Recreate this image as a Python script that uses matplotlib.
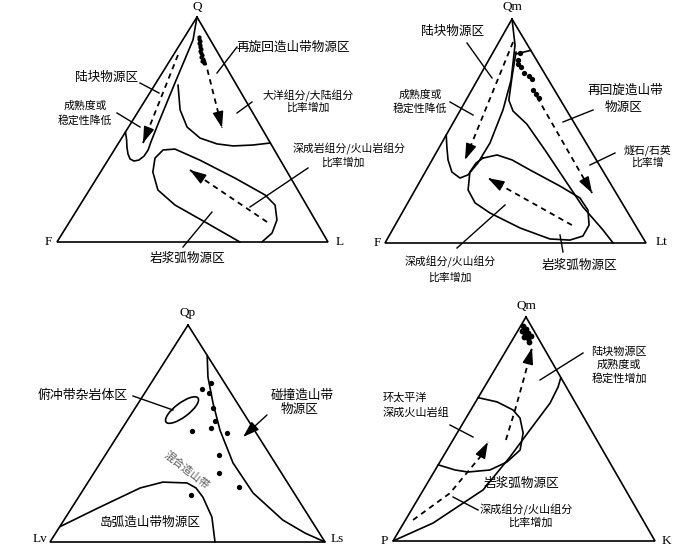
import numpy as np
import matplotlib
matplotlib.use('Agg')
import matplotlib.pyplot as plt
from matplotlib.patches import Ellipse

CJK = ['Noto Sans CJK SC', 'DejaVu Sans']
SERIF = 'Liberation Serif'

# ---- data: ternary compositions in % (top, left, right) ----
# QFL diagram: Q, F, L
qfl_q = [91.1, 90.2, 89.3, 88.4, 87.6, 86.7, 85.8, 84.9, 84.0, 83.1, 82.2, 81.3, 80.4, 79.6]
qfl_f = [3.6, 4.0, 4.1, 4.9, 4.9, 5.3, 5.4, 6.2, 6.3, 6.3, 7.1, 6.9, 7.6, 7.3]
qfl_l = [5.3, 5.8, 6.6, 6.7, 7.5, 8.0, 8.8, 8.9, 9.7, 10.6, 10.7, 11.8, 12.0, 13.1]

qfl_continental = [(100, 0, 0), (89.8, 6.4, 3.8), (70.7, 22.3, 7.0), (52.4, 37.4, 10.2),
                   (44.4, 43.9, 11.7), (40.9, 46.6, 12.5), (38.2, 49.4, 12.4), (36.4, 52.2, 11.4),
                   (36.0, 54.2, 9.8), (36.9, 55.2, 7.9), (39.1, 54.9, 6.0), (42.2, 53.8, 4.0),
                   (45.3, 52.4, 2.3), (48.9, 51.1, 0)]
qfl_recycled = [(69.8, 21.6, 8.6), (58.7, 26.2, 15.1), (51.1, 27.3, 21.6), (46.2, 24.9, 28.9),
                (43.6, 19.9, 36.5), (42.7, 14.4, 42.9), (43.1, 6.9, 50.0), (44, 0, 56)]
qfl_arc = [(0, 32.5, 67.5), (8.9, 41.1, 50.0), (16.4, 48.5, 35.1), (23.1, 51.6, 25.3),
           (31.1, 49.6, 19.3), (37.3, 45.8, 16.9), (40.9, 41.1, 18.0), (41.3, 36.5, 22.2),
           (36.4, 29.7, 33.9), (28.4, 20.6, 51.0), (20.9, 13.1, 66.0), (16.4, 11.6, 72.0),
           (9.8, 14.1, 76.1), (4.0, 18.7, 77.3), (0, 24.4, 75.6)]
qfl_arrows = [[(83.1, 15.2, 1.7), (44.0, 47.0, 9.0)],
              [(80.9, 6.3, 12.8), (50.7, 14.6, 34.7)],
              [(8.9, 18.2, 72.9), (32.0, 35.5, 32.5)]]

# QmFLt diagram: Qm, F, Lt
qmflt_qm = [84.8, 81.7, 79.9, 78.6, 75.9, 74.6, 73.2, 68.3, 66.5, 64.7]
qmflt_f = [4.7, 7.1, 8.0, 7.5, 7.8, 6.5, 6.1, 8.2, 8.0, 7.8]
qmflt_lt = [10.5, 11.2, 12.1, 13.9, 16.3, 18.9, 20.7, 23.5, 25.5, 27.5]

qmflt_continental = [(100, 0, 0), (88.4, 4.8, 6.8), (72.8, 14.3, 12.9), (59.4, 24.3, 16.3),
                     (44.6, 36.9, 18.5), (35.7, 46.1, 18.2), (30.4, 52.6, 17.0), (29.0, 56.4, 14.6),
                     (31.7, 58.1, 10.2), (37.1, 56.8, 6.1), (42.4, 54.5, 3.1), (48.2, 51.8, 0)]
qmflt_recycled = [(85.3, 6.0, 8.7), (74.1, 13.3, 12.6), (63.8, 19.8, 16.4), (58.9, 20.7, 20.4),
                  (53.1, 18.4, 28.5), (41.5, 17.4, 41.1), (28.1, 16.6, 55.3), (16.1, 15.9, 68.0),
                  (5.8, 13.5, 80.7), (0, 12.6, 87.4)]
qmflt_tick = [(84.4, 6.5, 9.1), (86, 0, 14)]
qmflt_arc = [(37.9, 43.0, 19.1), (39.3, 36.9, 23.8), (37.1, 32.3, 30.6), (32.6, 27.7, 39.7),
             (25.4, 19.9, 54.7), (20.1, 15.0, 64.9), (14.7, 14.7, 70.6), (8.0, 17.7, 74.3),
             (3.1, 22.6, 74.3), (1.3, 28.5, 70.2), (1.8, 35.9, 62.3), (6.7, 44.8, 48.5),
             (13.4, 52.9, 33.7), (17.9, 56.3, 25.8), (23.7, 56.0, 20.3), (31.7, 51.2, 17.1),
             (35.7, 46.8, 17.5), (37.9, 43.0, 19.1)]
qmflt_arrows = [[(89.7, 4.9, 5.4), (37.1, 50.3, 12.6)],
                [(65.2, 8.3, 26.5), (22.3, 9.2, 68.5)],
                [(8.0, 24.3, 67.7), (29.0, 45.7, 25.3)]]

# QpLvLs diagram: Qp, Lv, Ls
qplvls_qp = [73.3, 70.5, 68.7, 61.8, 55.8, 51.2, 52.5, 50.2, 40.1, 31.8, 25.3, 21.7]
qplvls_lv = [4.9, 9.6, 8.0, 9.9, 12.2, 22.8, 15.3, 10.6, 18.6, 22.7, 18.7, 37.9]
qplvls_ls = [21.8, 19.9, 23.3, 28.3, 32.0, 26.0, 32.2, 39.2, 41.3, 45.5, 56.0, 40.4]

qplvls_collision = [(86, 0, 14), (76.0, 4.7, 19.3), (64.1, 8.8, 27.1), (51.6, 12.5, 35.9),
                    (36.4, 15.3, 48.3), (22.6, 14.9, 62.5), (10.1, 10.3, 79.6), (4.1, 5.2, 90.7),
                    (0, 0, 100)]
qplvls_arc = [(7, 93, 0), (16.1, 73.8, 10.1), (24.9, 54.8, 20.3), (27.6, 45.2, 27.2),
              (27.2, 36.6, 36.2), (24.9, 34.5, 40.6), (20.7, 34.1, 45.2), (11.5, 35.4, 53.1),
              (0, 40, 60)]
qplvls_subduction = (60.8, 21.7, 17.5)

# QmPK diagram: Qm, P, K
qmpk_qm = [96.0, 94.6, 93.8, 92.9, 92.9, 91.1, 90.6, 91.5, 88.8]
qmpk_p = [3.1, 2.7, 4.6, 3.9, 2.7, 5.1, 3.9, 2.3, 4.4]
qmpk_k = [0.9, 2.7, 1.6, 3.2, 4.4, 3.8, 5.5, 6.2, 6.8]

qmpk_lens = [(0, 100, 0), (8.0, 80.8, 11.2), (22.8, 54.4, 22.8), (37.5, 36.9, 25.6),
             (49.6, 23.3, 27.1), (61.6, 9.7, 28.7), (68.8, 3.1, 28.1), (73, 0, 27)]
qmpk_pacific = [(34, 66, 0), (31.7, 60.7, 7.6), (30.8, 56.2, 13.0), (31.7, 47.4, 20.9),
                (35.3, 39.1, 25.6), (40.6, 31.5, 27.9), (48.2, 26.6, 25.2), (54.9, 24.5, 20.6),
                (58.5, 25.4, 16.1), (62.1, 29.7, 8.2), (64, 36, 0)]
qmpk_arrows = [[(9.4, 87.7, 2.9), (21.4, 67.7, 10.9), (37.5, 48.3, 14.2), (44.2, 42.0, 13.8)],
               [(45.1, 34.7, 20.2), (58.5, 24.6, 16.9), (74.1, 13.2, 12.7), (86.2, 4.5, 9.3)]]

# ---- layout: triangle corners (top, left, right) in figure pixels ----
TRI = {
    'QFL': [(197, 17), (57, 242), (328, 242)],
    'QmFLt': [(512, 19), (385, 243), (646, 243)],
    'QpLvLs': [(188, 325), (50, 542), (325, 542)],
    'QmPK': [(526, 317), (393, 541), (655, 541)],
}
CORNER_LABELS = {
    'QFL': [('Q', 197, 7), ('F', 48, 242), ('L', 340, 242)],
    'QmFLt': [('Qm', 512, 7), ('F', 377, 243), ('Lt', 661, 242)],
    'QpLvLs': [('Qp', 188, 313), ('Lv', 40, 539), ('Ls', 337, 539)],
    'QmPK': [('Qm', 526, 306), ('P', 384, 541), ('K', 666, 541)],
}

fig = plt.figure(figsize=(7, 5.47), dpi=100)
ax = fig.add_axes([0, 0, 1, 1])
ax.set_xlim(0, 700)
ax.set_ylim(547, 0)
ax.axis('off')

LW = 1.2


def tern(name, comps):
    c = np.atleast_2d(np.asarray(comps, float)) / 100.0
    xy = c @ np.asarray(TRI[name], float)
    return xy[:, 0], xy[:, 1]


def curve(name, comps, **kw):
    x, y = tern(name, comps)
    ax.plot(x, y, color='k', lw=LW, solid_capstyle='round', **kw)


def dashed_arrow(name, comps):
    x, y = tern(name, comps)
    ax.plot(x, y, color='k', lw=1.3, ls=(0, (3, 2.5)))
    d = np.array([x[-1] - x[-2], y[-1] - y[-2]])
    d = d / np.hypot(*d)
    ax.annotate('', xy=(x[-1], y[-1]), xytext=(x[-1] - 8 * d[0], y[-1] - 8 * d[1]),
                arrowprops=dict(arrowstyle='-|>,head_length=1.0,head_width=0.33',
                                color='k', lw=1.0, shrinkA=0, shrinkB=0))


def dots(name, top, left, right, ms):
    x, y = tern(name, list(zip(top, left, right)))
    ax.plot(x, y, 'o', color='k', ms=ms, mec='none')


# triangles and corner labels
for name, verts in TRI.items():
    v = np.array(verts + [verts[0]], float)
    ax.plot(v[:, 0], v[:, 1], color='k', lw=LW, solid_joinstyle='miter')
    for s, x, y in CORNER_LABELS[name]:
        ax.text(x, y, s, family=SERIF, fontsize=9.5, ha='center', va='center')

# QFL
curve('QFL', qfl_continental)
curve('QFL', qfl_recycled)
curve('QFL', qfl_arc)
for a in qfl_arrows:
    dashed_arrow('QFL', a)
dots('QFL', qfl_q, qfl_f, qfl_l, 3.0)

# QmFLt
curve('QmFLt', qmflt_continental)
curve('QmFLt', qmflt_recycled)
curve('QmFLt', qmflt_tick)
curve('QmFLt', qmflt_arc)
for a in qmflt_arrows:
    dashed_arrow('QmFLt', a)
dots('QmFLt', qmflt_qm, qmflt_f, qmflt_lt, 3.8)

# QpLvLs
curve('QpLvLs', qplvls_collision)
curve('QpLvLs', qplvls_arc)
ex, ey = tern('QpLvLs', qplvls_subduction)
ax.add_patch(Ellipse((ex[0], ey[0]), width=40, height=14, angle=-37,
                     fill=False, lw=LW, ec='k'))
dots('QpLvLs', qplvls_qp, qplvls_lv, qplvls_ls, 3.8)

# QmPK
curve('QmPK', qmpk_lens)
curve('QmPK', qmpk_pacific)
for a in qmpk_arrows:
    dashed_arrow('QmPK', a)
dots('QmPK', qmpk_qm, qmpk_p, qmpk_k, 4.2)

# labels (x, y, text, size)
labels = [
    (293, 47, '再旋回造山带物源区', 9.1), (107, 77, '陆块物源区', 9.1),
    (85, 106, '成熟度或', 7.8), (85, 120, '稳定性降低', 7.8),
    (308, 96, '大洋组分/大陆组分', 7.8), (308, 108, '比率增加', 7.8),
    (349, 149, '深成岩组分/火山岩组分', 7.8), (343, 163, '比率增加', 7.8),
    (188, 258, '岩浆弧物源区', 9.1),
    (453, 32, '陆块物源区', 9.1),
    (420, 95, '成熟度或', 7.8), (420, 108, '稳定性降低', 7.8),
    (625, 90, '再回旋造山带', 9.1), (624, 107, '物源区', 9.1),
    (648, 150, '燧石/石英', 7.8), (647, 163, '比率增', 7.8),
    (450, 262, '深成组分/火山组分', 7.8), (450, 278, '比率增加', 7.8),
    (580, 265, '岩浆弧物源区', 9.1),
    (83, 395, '俯冲带杂岩体区', 9.3),
    (302, 395, '碰撞造山带', 9.1), (300, 409, '物源区', 9.1),
    (150, 522, '岛弧造山带物源区', 9.1),
    (619, 352, '陆块物源区', 8.0), (619, 365, '成熟度或', 8.0), (619, 378, '稳定性增加', 8.0),
    (521, 483, '岩浆弧物源区', 9.1),
    (526, 510, '深成组分/火山组分', 8.0), (530, 523, '比率增加', 8.0),
]
for x, y, s, size in labels:
    ax.text(x, y, s, family=CJK, fontsize=size, ha='center', va='center')
ax.text(383, 398, '环太平洋', family=CJK, fontsize=8.0, ha='left', va='center')
ax.text(383, 412, '深成火山岩组', family=CJK, fontsize=8.0, ha='left', va='center')
ax.text(187, 470, '混合造山带', family=CJK, fontsize=7.8, ha='center', va='center',
        rotation=-38, color='#555555')

# leader lines
leaders = [
    ((237, 47), (217, 73)), ((140, 83), (159, 93)), ((117, 113), (140, 127)),
    ((252, 102), (237, 113)), ((308, 168), (250, 207)), ((183, 247), (212, 212)),
    ((467, 43), (492, 78)), ((450, 102), (473, 115)), ((593, 110), (563, 122)),
    ((615, 153), (590, 165)), ((457, 248), (505, 205)), ((563, 252), (560, 235)),
    ((133, 396), (173, 410)),
    ((583, 353), (540, 380)), ((450, 425), (473, 437)), ((478, 510), (453, 497)),
]
for (x1, y1), (x2, y2) in leaders:
    ax.plot([x1, x2], [y1, y2], color='k', lw=1.0)
ax.annotate('', xy=(243, 437), xytext=(267, 415),
            arrowprops=dict(arrowstyle='-|>,head_length=1.0,head_width=0.33',
                            color='k', lw=1.0, shrinkA=0, shrinkB=0))

fig.savefig('out.png', dpi=100)
